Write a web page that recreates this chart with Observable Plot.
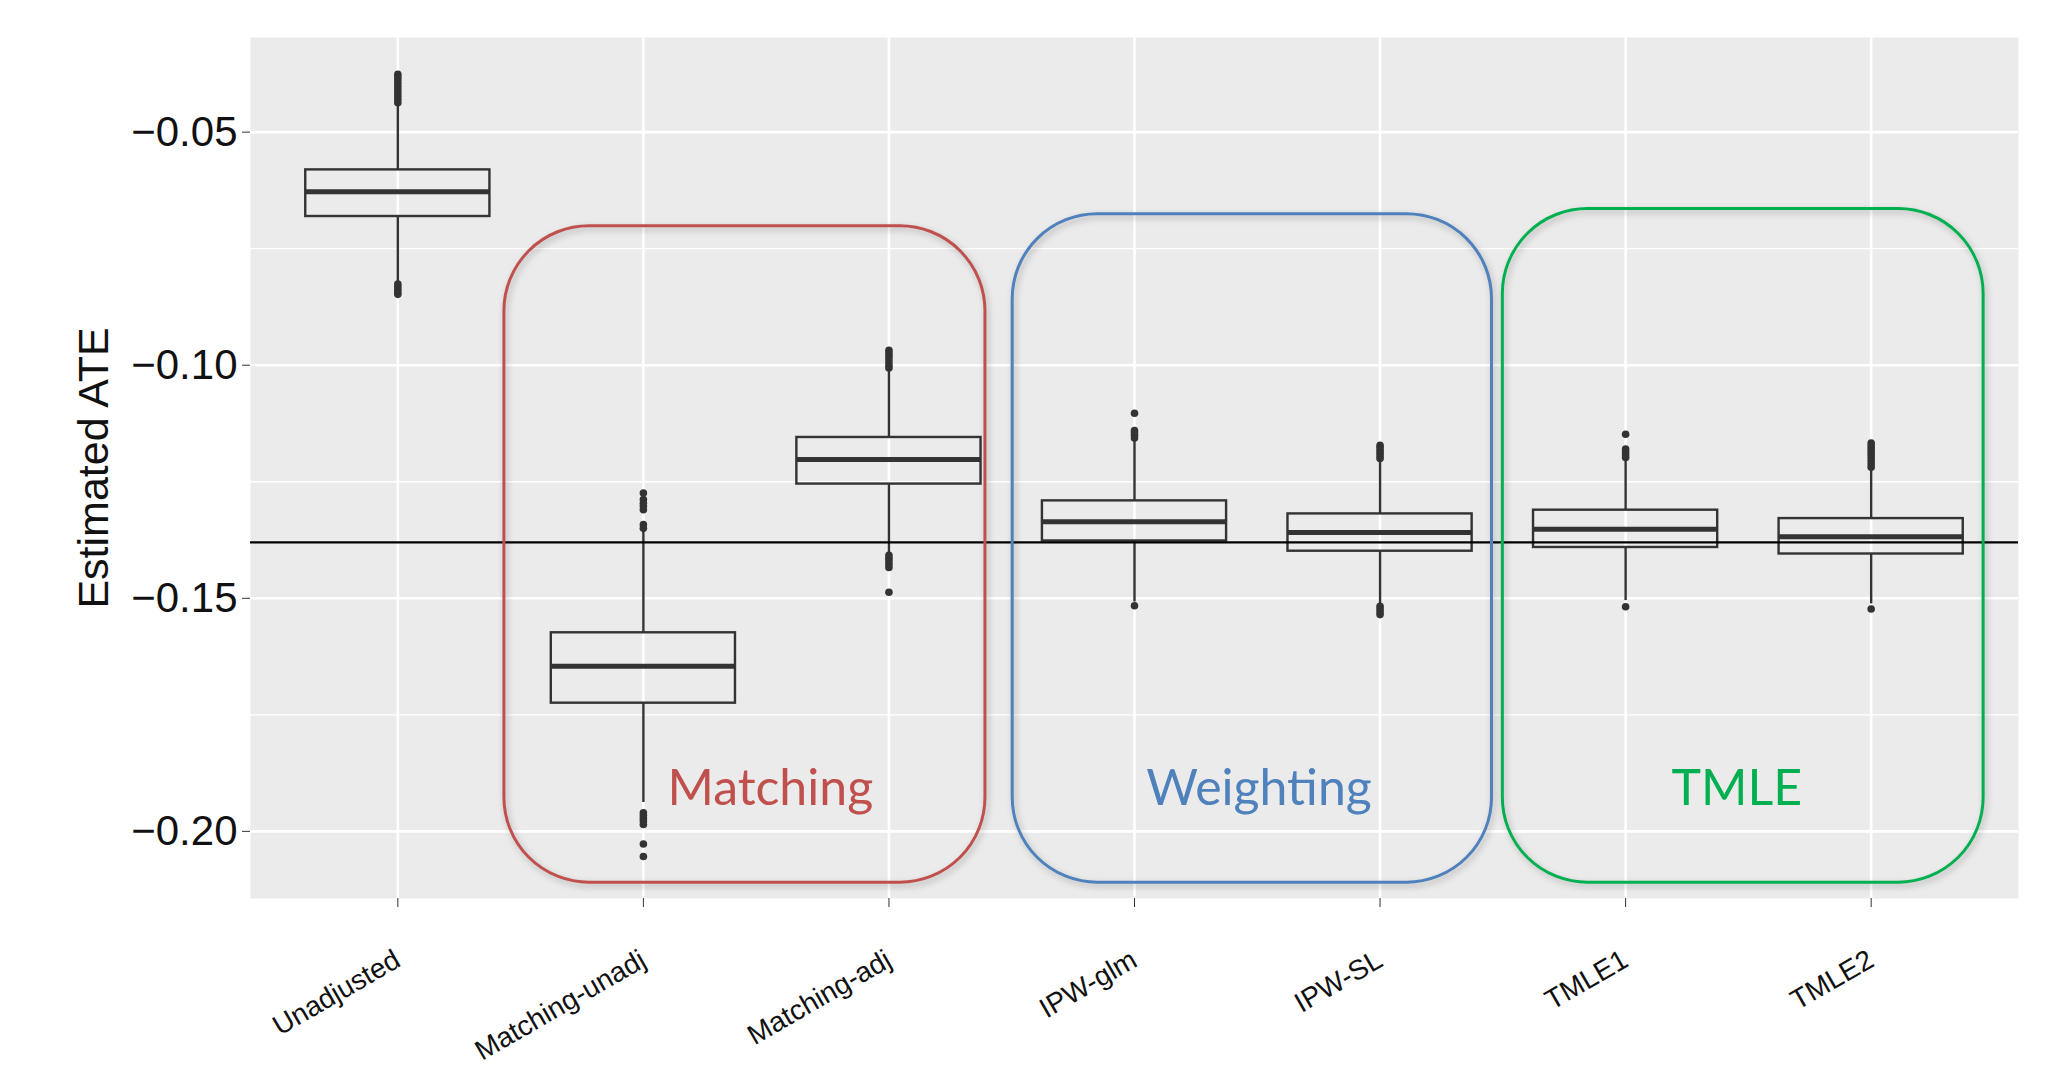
<!DOCTYPE html>
<html>
<head>
<meta charset="utf-8">
<script src="https://cdn.jsdelivr.net/npm/d3@7"></script>
<script src="https://cdn.jsdelivr.net/npm/@observablehq/plot@0.6"></script>
<style>
  html, body { margin: 0; padding: 0; background: #fff; }
  #chart svg { display: block; }
</style>
</head>
<body>
<div id="chart"></div>
<script>
// ---- data ----
const methods = ["Unadjusted", "Matching-unadj", "Matching-adj", "IPW-glm", "IPW-SL", "TMLE1", "TMLE2"];
const lowerWhisker = [-0.0821, -0.1938, -0.1403, -0.1508, -0.1512, -0.1505, -0.1512];
const lowerQuartile = [-0.0681, -0.1725, -0.1255, -0.1377, -0.1399, -0.1391, -0.1405];
const medians      = [-0.0628, -0.1646, -0.1202, -0.1336, -0.1359, -0.1352, -0.1368];
const upperQuartile = [-0.0581, -0.1574, -0.1155, -0.1291, -0.1319, -0.1311, -0.1329];
const upperWhisker = [-0.0445, -0.1357, -0.1010, -0.1162, -0.1203, -0.1204, -0.1224];
const outlierValues = [
  [-0.0376, -0.0382, -0.0388, -0.0395, -0.0402, -0.0409, -0.0416, -0.0423, -0.0430, -0.0437, -0.0826, -0.0831, -0.0837, -0.0843, -0.0848],
  [-0.1274, -0.1288, -0.1296, -0.1303, -0.1310, -0.1342, -0.1350, -0.1960, -0.1966, -0.1972, -0.1978, -0.1985, -0.2027, -0.2054],
  [-0.0968, -0.0974, -0.0980, -0.0986, -0.0993, -0.1000, -0.1006, -0.1408, -0.1414, -0.1420, -0.1427, -0.1434, -0.1487],
  [-0.1103, -0.1140, -0.1145, -0.1150, -0.1156, -0.1516],
  [-0.1172, -0.1177, -0.1183, -0.1189, -0.1195, -0.1200, -0.1517, -0.1523, -0.1529, -0.1535],
  [-0.1148, -0.1180, -0.1186, -0.1192, -0.1198, -0.1518],
  [-0.1167, -0.1173, -0.1179, -0.1185, -0.1191, -0.1198, -0.1205, -0.1212, -0.1219, -0.1523]
];
const trueATE = -0.138;
const yMajorTicks = [-0.05, -0.10, -0.15, -0.20];
const yMinorTicks = [-0.075, -0.125, -0.175];
const yLabel = "Estimated ATE";

// method groups (extent in category units, value extent)
const groupNames = ["Matching", "Weighting", "TMLE"];
const groupColors = ["#C0504D", "#4F81BD", "#00B050"];
const groupStart = [0.434, 2.504, 4.500];
const groupEnd = [2.393, 4.456, 6.458];
const groupTop = [-0.0702, -0.0676, -0.0665];
const groupBottom = [-0.2110, -0.2110, -0.2110];
const groupLabelX = [1.517, 3.507, 5.453];
const groupLabelY = [-0.1910, -0.1910, -0.1910];

// ---- build tables ----
const stats = methods.map((m, i) => ({
  i, m, lo: lowerWhisker[i], q1: lowerQuartile[i], med: medians[i], q3: upperQuartile[i], hi: upperWhisker[i]
}));
const outliers = outlierValues.flatMap((vals, i) => vals.map(v => ({i, v})));
const groups = groupNames.map((g, k) => ({
  name: g, color: groupColors[k], x1: groupStart[k], x2: groupEnd[k], y1: groupBottom[k], y2: groupTop[k],
  lx: groupLabelX[k], ly: groupLabelY[k]
}));

const boxHalf = 0.375;
const ink = "#333333";

const chart = Plot.plot({
  width: 2065,
  height: 1078,
  marginLeft: 250,
  marginRight: 47,
  marginTop: 37,
  marginBottom: 180,
  style: {fontFamily: "Liberation Sans, Arial, sans-serif", background: "white", overflow: "visible"},
  x: {type: "linear", domain: [-0.6, 6.6]},
  y: {domain: [-0.2144, -0.0297]},
  marks: [
    Plot.frame({fill: "#EBEBEB", stroke: null}),
    Plot.ruleY(yMinorTicks, {stroke: "white", strokeWidth: 1.3}),
    Plot.ruleY(yMajorTicks, {stroke: "white", strokeWidth: 2.6}),
    Plot.ruleX(d3.range(methods.length), {stroke: "white", strokeWidth: 2.6}),
    // whiskers
    Plot.ruleX(stats, {x: "i", y1: "lo", y2: "q1", stroke: ink, strokeWidth: 2.4}),
    Plot.ruleX(stats, {x: "i", y1: "q3", y2: "hi", stroke: ink, strokeWidth: 2.4}),
    // boxes
    Plot.rect(stats, {x1: d => d.i - boxHalf, x2: d => d.i + boxHalf, y1: "q1", y2: "q3", fill: "none", stroke: ink, strokeWidth: 2.4}),
    // medians
    Plot.ruleY(stats, {y: "med", x1: d => d.i - boxHalf, x2: d => d.i + boxHalf, stroke: ink, strokeWidth: 5}),
    // outliers
    Plot.dot(outliers, {x: "i", y: "v", r: 3.8, fill: ink, stroke: null}),
    // true value
    Plot.ruleY([trueATE], {stroke: "black", strokeWidth: 2.4}),
    // group boxes
    ...groups.map(g => Plot.rect([g], {x1: "x1", x2: "x2", y1: "y1", y2: "y2", rx: 85, fill: "none", stroke: g.color, strokeWidth: 3})),
    ...groups.map(g => Plot.text([g], {x: "lx", y: "ly", text: "name", fill: g.color, fontSize: 50, fontFamily: "Lato, 'Open Sans', sans-serif"})),
    // axes
    Plot.axisY({ticks: yMajorTicks, tickFormat: d3.format(".2f"), tickSize: 8, tickPadding: 5, fontSize: 42, stroke: ink, fill: "#111", label: null}),
    Plot.axisX({ticks: d3.range(methods.length), tickFormat: i => methods[i], tickSize: 9, tickPadding: 50, tickRotate: -30, fontSize: 28, stroke: ink, fill: "#111", label: null}),
    Plot.text([yLabel], {frameAnchor: "left", textAnchor: "middle", dx: -156, rotate: -90, fontSize: 43, fill: "#111"})
  ]
});

document.getElementById("chart").appendChild(chart);

// soft shadow under the group outlines
d3.select(chart).selectAll("g[aria-label='rect']").each(function() {
  const s = this.getAttribute("stroke");
  if (s && groupColors.includes(s)) this.style.filter = "drop-shadow(2px 3px 3px rgba(0,0,0,0.25))";
});
</script>
</body>
</html>
